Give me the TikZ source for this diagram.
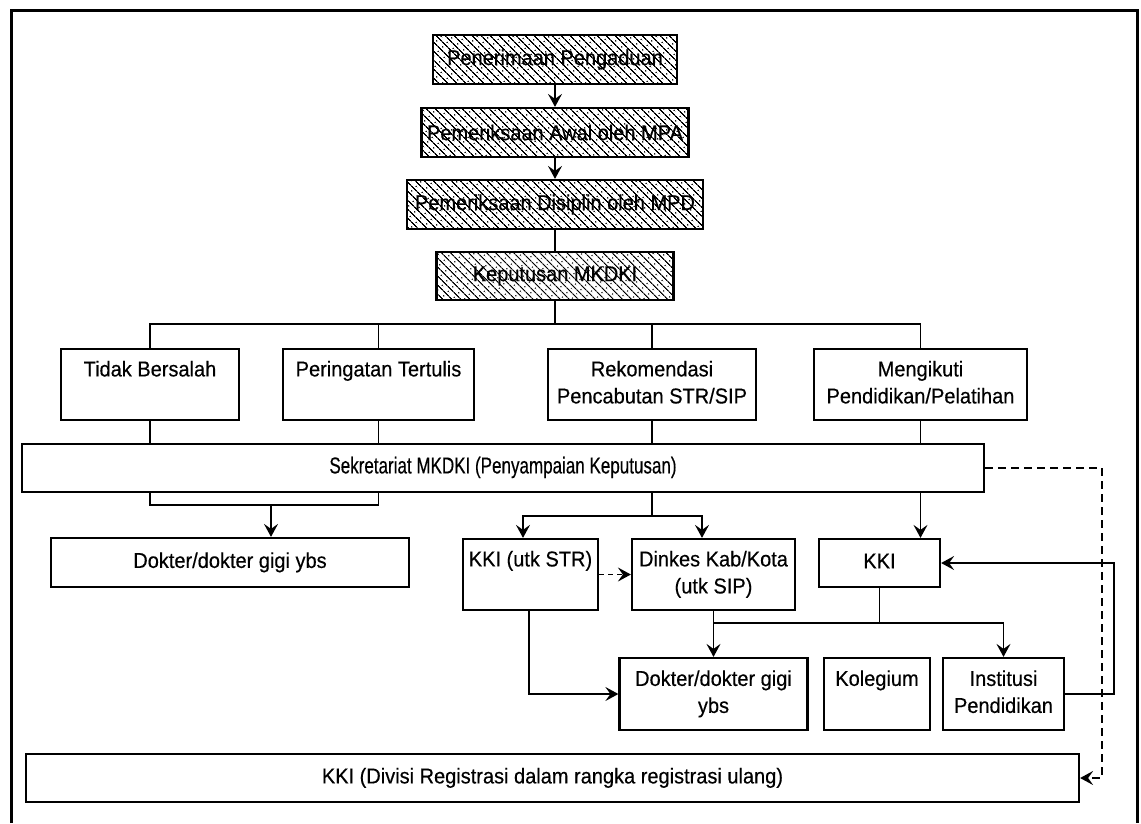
\documentclass[tikz,border=0pt]{standalone}
\usepackage{fontspec}
\setmainfont{Liberation Sans}[FakeStretch=0.93,FakeBold=0.4]
\newfontfamily\narrowfont{Liberation Sans}[FakeStretch=0.74,FakeBold=0.4]
\usetikzlibrary{patterns.meta,arrows.meta}
\pgfdeclarepattern{
  name=hatchdot,
  type=uncolored,
  bottom left={\pgfpoint{0pt}{0pt}},
  top right={\pgfpoint{8pt}{6.5pt}},
  tile size={\pgfpoint{8pt}{6.5pt}},
  tile transformation={\pgftransformrotate{-45}},
  code={
    \pgfsetlinewidth{1.3pt}
    \pgfpathmoveto{\pgfpoint{-0.5pt}{1.6pt}}
    \pgfpathlineto{\pgfpoint{8.5pt}{1.6pt}}
    \pgfusepath{stroke}
    \pgfpathcircle{\pgfpoint{4pt}{4.85pt}}{0.9pt}
    \pgfusepath{fill}
  }
}
\begin{document}
\begin{tikzpicture}[x=1pt,y=-1pt,
  box/.style={draw, line width=2.2pt, rectangle, inner sep=0pt, align=center,
    font=\fontsize{21.5}{27}\selectfont},
  hatchbox/.style={box, pattern=hatchdot, pattern color=black},
  conn/.style={line width=1.8pt},
  arr/.style={conn, -{Stealth[length=13pt,width=14pt,inset=5pt]}},
  dashconn/.style={dash pattern=on 8pt off 5pt},
  shortdash/.style={dash pattern=on 5pt off 4pt}
]
\useasboundingbox (0,0) rectangle (1141,823);
% frame
\draw[line width=3pt] (11,823) -- (11,10) -- (1137,10) -- (1137,823);

% top chain
\node[hatchbox, minimum width=244pt, minimum height=49pt] (p1) at (555,59.5) {Penerimaan Pengaduan};
\node[hatchbox, minimum width=267pt, minimum height=49pt] (p2) at (555,132.5) {Pemeriksaan Awal oleh MPA};
\node[hatchbox, minimum width=296pt, minimum height=49pt] (p3) at (555,204.5) {Pemeriksaan Disiplin oleh MPD};
\node[hatchbox, minimum width=237pt, minimum height=48pt] (p4) at (555,276) {Keputusan MKDKI};

% decisions
\node[box, minimum width=178pt, minimum height=71pt] (tidak) at (150,384.5) {\strut Tidak Bersalah\\\strut};
\node[box, minimum width=191pt, minimum height=71pt] (per) at (378.5,384.5) {\strut Peringatan Tertulis\\\strut};
\node[box, minimum width=208pt, minimum height=71pt] (rek) at (652,384.5) {\strut Rekomendasi\\\strut Pencabutan STR/SIP};
\node[box, minimum width=213pt, minimum height=71pt] (meng) at (920.5,384.5) {\strut Mengikuti\\\strut Pendidikan/Pelatihan};

% secretariat
\node[box, minimum width=962pt, minimum height=48pt] (sek) at (503,468) {\fontsize{23}{27}\narrowfont\strut Sekretariat MKDKI (Penyampaian Keputusan)};

% lower row
\node[box, minimum width=358pt, minimum height=49pt] (dok1) at (230,562.5) {\strut Dokter/dokter gigi ybs};
\node[box, minimum width=135pt, minimum height=71pt] (kkistr) at (530.5,574.5) {\strut KKI (utk STR)\\\strut};
\node[box, minimum width=163pt, minimum height=71pt] (dinkes) at (713.5,574.5) {\strut Dinkes Kab/Kota\\\strut (utk SIP)};
\node[box, minimum width=121pt, minimum height=48pt] (kki) at (879.5,563) {\strut KKI};
\node[box, minimum width=188pt, minimum height=72pt] (dok2) at (713.5,694) {\strut Dokter/dokter gigi\\\strut ybs};
\node[box, minimum width=106pt, minimum height=72pt] (kol) at (877,694) {\strut Kolegium\\\strut};
\node[box, minimum width=121pt, minimum height=72pt] (inst) at (1003.5,694) {\strut Institusi\\\strut Pendidikan};
\node[box, minimum width=1053pt, minimum height=48pt] (kkib) at (552.5,778) {\strut KKI (Divisi Registrasi dalam rangka registrasi ulang)};

% coordinates for bends
\coordinate (br) at (555,324);
\coordinate (bl) at (150,505);
\coordinate (bm) at (271,505);
\coordinate (rb) at (652,516);
\coordinate (kj) at (880,623);
\coordinate (fb) at (1114,693);
\coordinate (dr) at (1102,468);

% top chain connectors
\draw[arr] (p1) -- (p2);
\draw[arr] (p2) -- (p3);
\draw[conn] (p3) -- (p4);
\draw[conn] (p4.south) -- (br);
\draw[conn] (tidak.north) |- (br) -| (meng.north);
\draw[conn] (per.north) -- (per.north |- br);
\draw[conn] (rek.north) -- (rek.north |- br);

% decisions to secretariat
\draw[conn] (tidak.south) -- (tidak.south |- sek.north);
\draw[conn] (per.south) -- (per.south |- sek.north);
\draw[conn] (rek.south) -- (rek.south |- sek.north);
\draw[conn] (meng.south) -- (meng.south |- sek.north);

% secretariat outputs
\draw[conn] (tidak.south |- sek.south) -- (bl) -- (per.south |- bl) -- (per.south |- sek.south);
\draw[arr] (bm) -- (bm |- dok1.north);
\draw[conn] (rek.south |- sek.south) -- (rb);
\draw[arr] (rb) -| ([xshift=-7.5pt]kkistr.north);
\draw[arr] (rb) -| ([xshift=-11.5pt]dinkes.north);
\draw[arr] (meng.south |- sek.south) -- (meng.south |- kki.north);
\draw[arr, dashconn] (sek.east) -- (dr) |- (kkib.east);

% lower connectors
\draw[arr, shortdash] (kkistr.east) -- (dinkes.west);
\draw[arr] ([xshift=-1.5pt]kkistr.south) |- (dok2.west);
\draw[arr] (dinkes.south) -- (dok2.north);
\draw[conn] (kki.south) -- (kki.south |- kj);
\draw[arr] (dinkes.south |- kj) -| (inst.north);
\draw[arr] (inst.east) -- (inst.east -| fb) |- (kki.east);
\end{tikzpicture}
\end{document}
